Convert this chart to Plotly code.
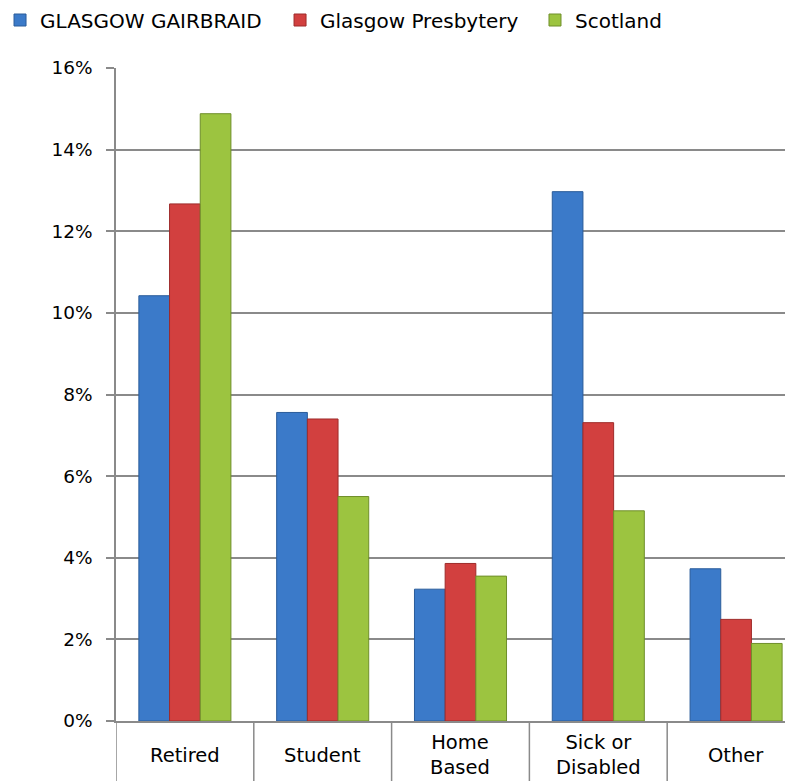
import plotly.graph_objects as go

categories = ["Retired", "Student", "Home<br>Based", "Sick or<br>Disabled", "Other"]
gairbraid = [10.42, 7.56, 3.23, 12.97, 3.73]
presbytery = [12.67, 7.40, 3.86, 7.31, 2.49]
scotland = [14.88, 5.50, 3.55, 5.15, 1.90]
series_names = ["GLASGOW GAIRBRAID", "Glasgow Presbytery", "Scotland"]
colors = ["#3B7AC9", "#D2403F", "#9CC440"]
edge_colors = ["#2A5C9A", "#9E2B2A", "#6F8F2A"]
legend_ids = ["legend", "legend2", "legend3"]
legend_x = [-0.1713, 0.2423, 0.6189]

FONT = "'DejaVu Sans', Verdana, sans-serif"
GRAY = "#8a8a8a"

fig = go.Figure()
for name, vals, c, ec, lg in zip(series_names, [gairbraid, presbytery, scotland],
                                 colors, edge_colors, legend_ids):
    fig.add_trace(go.Bar(
        x=categories, y=vals, name=name, legend=lg,
        marker=dict(color=c, line=dict(color=ec, width=1)),
    ))

# category divider lines below the axis
for i in range(len(categories) + 1):
    fig.add_shape(type="line", xref="x", yref="paper",
                  x0=i - 0.5, x1=i - 0.5, y0=0, y1=-0.092,
                  line=dict(color=GRAY, width=1.5))

# category labels, vertically centred in the band under the axis
for cat in categories:
    fig.add_annotation(x=cat, xref="x", y=-0.0528, yref="paper",
                       text=cat, showarrow=False, xanchor="center", yanchor="middle",
                       font=dict(family=FONT, size=19.5, color="#000000"))

legend_style = dict(orientation="h", xanchor="left", y=1.0735, yanchor="middle",
                    font=dict(size=20), itemwidth=30, bgcolor="rgba(0,0,0,0)")

fig.update_layout(
    width=785, height=773,
    margin=dict(l=108, r=0, t=60, b=60, autoexpand=False),
    paper_bgcolor="white", plot_bgcolor="white",
    barmode="group", bargap=0.332, bargroupgap=0,
    font=dict(family=FONT, size=18.5, color="#000000"),
    legend=dict(x=legend_x[0], **legend_style),
    legend2=dict(x=legend_x[1], **legend_style),
    legend3=dict(x=legend_x[2], **legend_style),
    showlegend=True,
)
fig.update_xaxes(
    showline=True, linecolor=GRAY, linewidth=1.5,
    ticks="", showgrid=False, showticklabels=False,
    range=[-0.5, 4.413],
)
fig.update_yaxes(
    range=[0, 16], dtick=2, ticksuffix="%",
    showline=True, linecolor=GRAY, linewidth=1.5,
    ticks="outside", ticklen=8, tickcolor=GRAY, tickwidth=1.5,
    ticklabelstandoff=10,
    showgrid=True, gridcolor=GRAY, gridwidth=1.5,
    zeroline=False, tickfont=dict(size=18.5),
)
fig.write_html("out.html")
